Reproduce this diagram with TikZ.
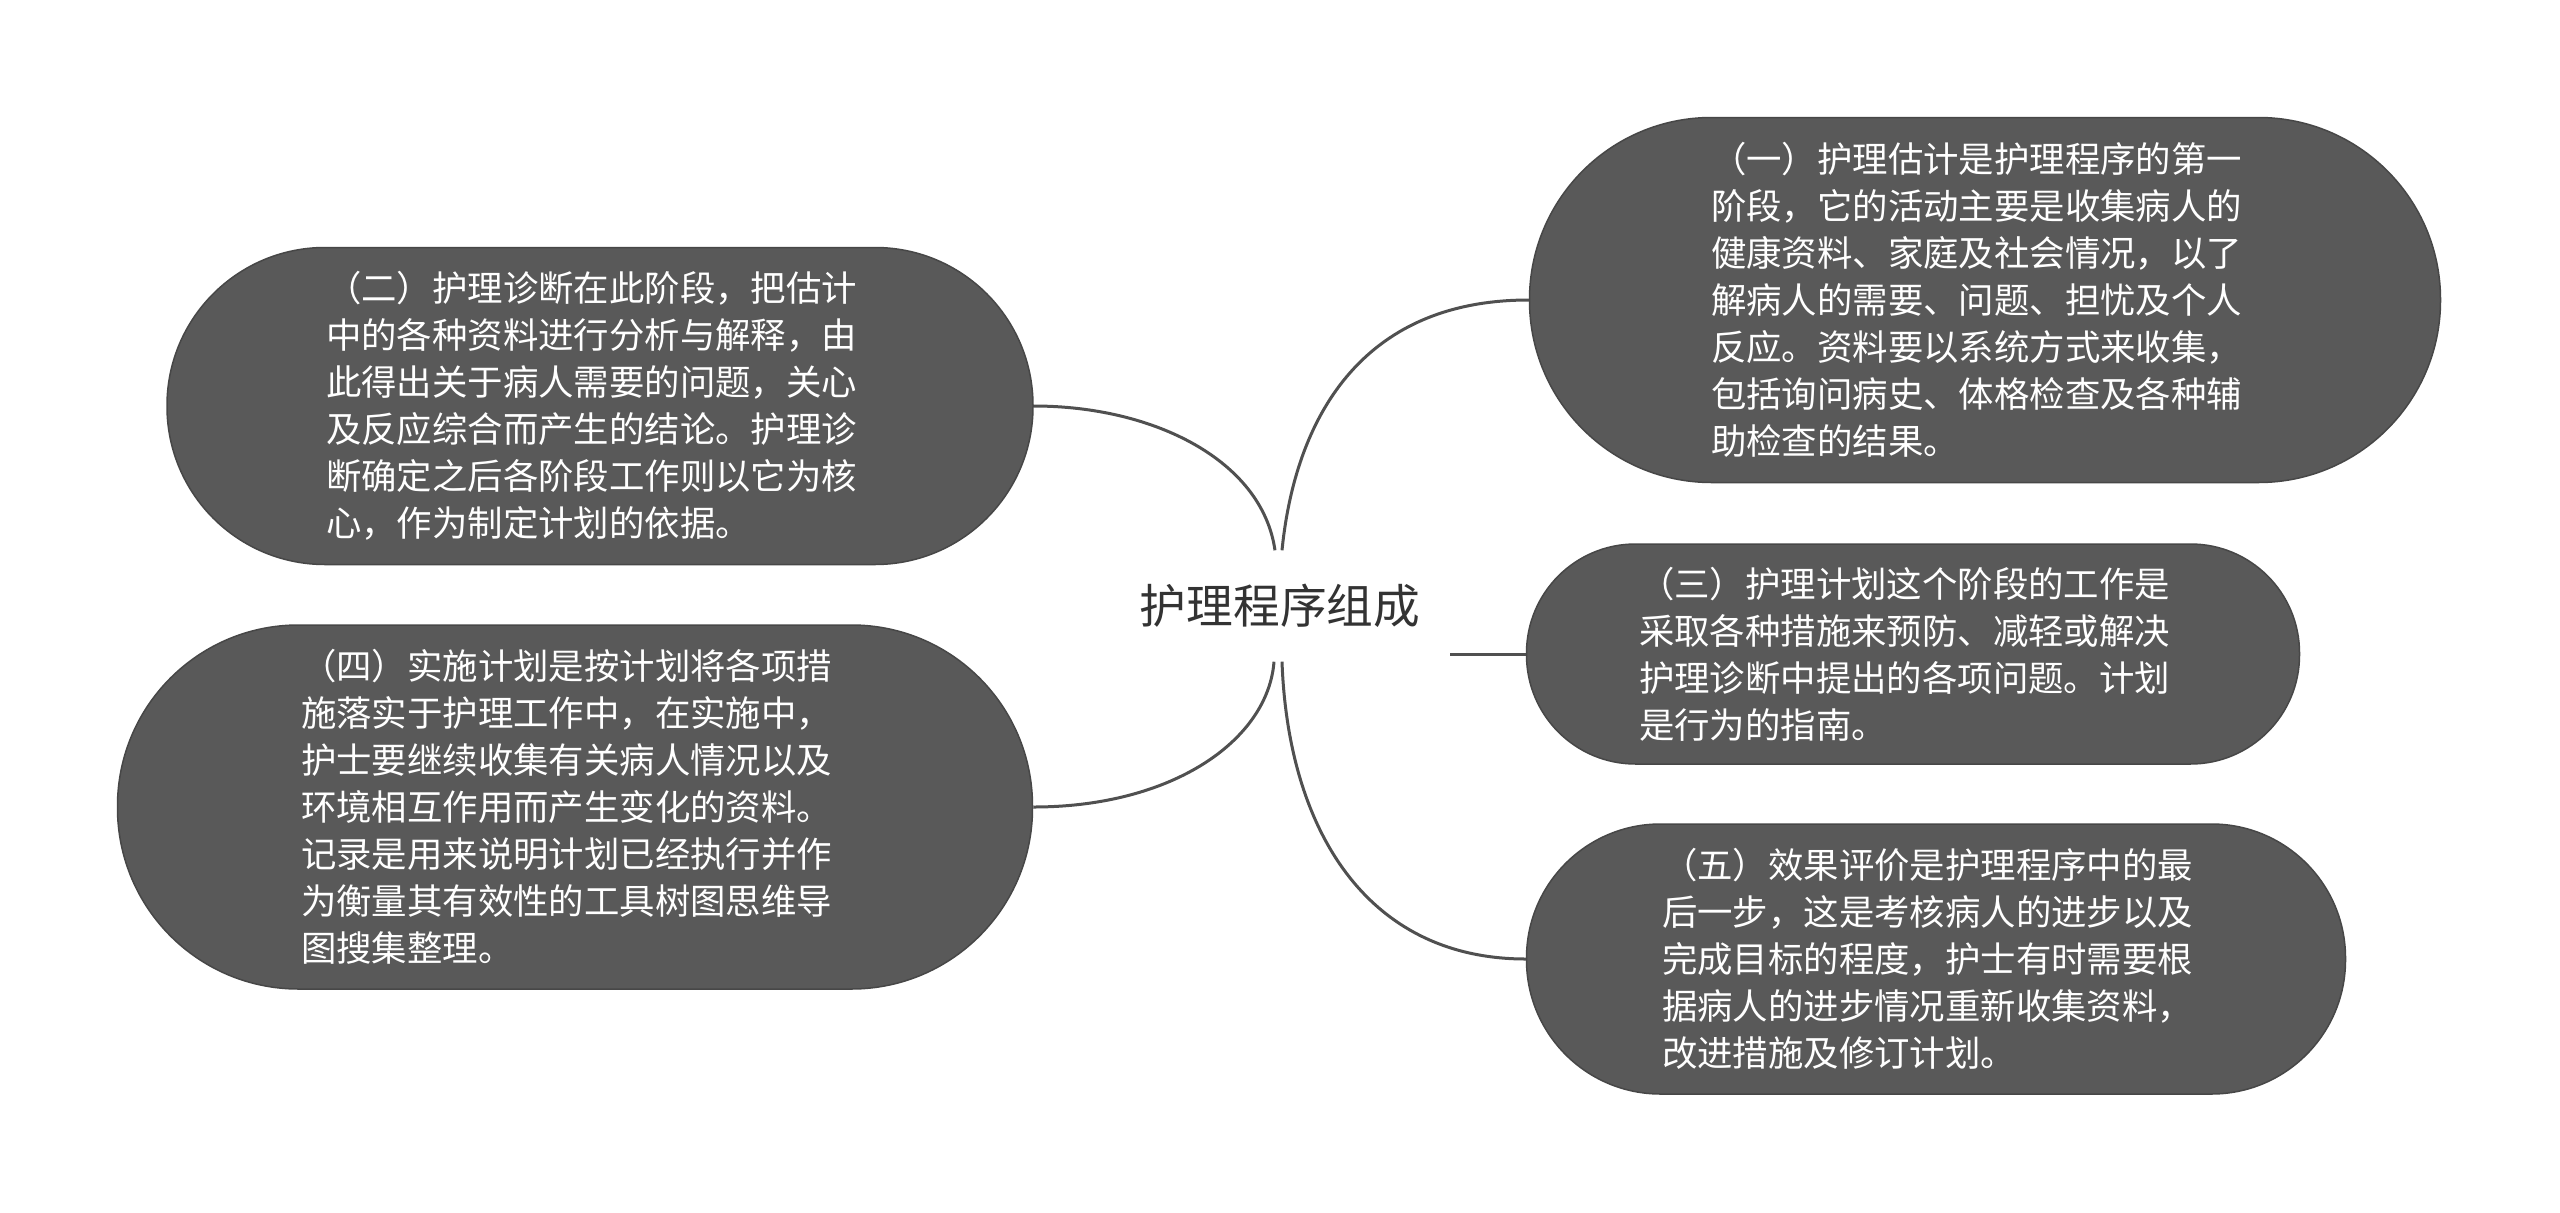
\documentclass[tikz,border=0pt]{standalone}
\usepackage{fontspec}
\setmainfont{Noto Sans CJK SC}
\definecolor{boxfill}{HTML}{595959}
\definecolor{boxedge}{HTML}{474747}
\definecolor{linkgray}{HTML}{505050}
\definecolor{hubtext}{HTML}{333333}
\newcommand{\stagefont}{\fontsize{35.4}{47}\selectfont}
\newcommand{\hubfont}{\fontsize{46.7}{56}\selectfont}
\tikzset{
	stage/.style = {draw = boxedge, line width = 1.5pt, fill = boxfill, text = white,
		text width = 548pt, align = left, inner sep = 0pt, font = \stagefont},
	link/.style = {draw = linkgray, line width = 3pt}
}
\begin{document}
\begin{tikzpicture}[x = 1pt, y = -1pt]

	% Canvas

	\useasboundingbox [fill = white] (0, 0) rectangle (2560, 1213);

	% Hub

	\node [text = hubtext, font = \hubfont, minimum width = 340pt, minimum height = 111pt, inner sep = 0pt] (hub) at (1280, 606) {护理程序组成};

	% Stages

	\node [stage, minimum width = 911pt, minimum height = 365pt, rounded corners = 182pt] (assess) at (1985, 300)
		{（一）护理估计是护理程序的第一\\阶段，它的活动主要是收集病人的\\健康资料、家庭及社会情况，以了\\解病人的需要、问题、担忧及个人\\反应。资料要以系统方式来收集，\\包括询问病史、体格检查及各种辅\\助检查的结果。};
	\node [stage, minimum width = 866pt, minimum height = 317pt, rounded corners = 158pt] (diagnose) at (600, 406)
		{（二）护理诊断在此阶段，把估计\\中的各种资料进行分析与解释，由\\此得出关于病人需要的问题，关心\\及反应综合而产生的结论。护理诊\\断确定之后各阶段工作则以它为核\\心，作为制定计划的依据。};
	\node [stage, minimum width = 773pt, minimum height = 220pt, rounded corners = 109pt] (plan) at (1913, 654)
		{（三）护理计划这个阶段的工作是\\采取各种措施来预防、减轻或解决\\护理诊断中提出的各项问题。计划\\是行为的指南。};
	\node [stage, minimum width = 915pt, minimum height = 364pt, rounded corners = 181pt] (implement) at (575, 807)
		{（四）实施计划是按计划将各项措\\施落实于护理工作中，在实施中，\\护士要继续收集有关病人情况以及\\环境相互作用而产生变化的资料。\\记录是用来说明计划已经执行并作\\为衡量其有效性的工具树图思维导\\图搜集整理。};
	\node [stage, minimum width = 819pt, minimum height = 270pt, rounded corners = 134pt] (evaluate) at (1936, 959)
		{（五）效果评价是护理程序中的最\\后一步，这是考核病人的进步以及\\完成目标的程度，护士有时需要根\\据病人的进步情况重新收集资料，\\改进措施及修订计划。};

	% Connectors

	\draw [link] ([xshift = 2pt] hub.north) .. controls +(13, -130) and +(-169, 0) .. (assess.west);
	\draw [link] ([xshift = -5pt] hub.north) .. controls +(-13, -90) and +(120, 0) .. (diagnose.east);
	\draw [link] (hub.east |- plan.west) -- (plan.west);
	\draw [link] ([xshift = -6pt] hub.south) .. controls +(-6, 78) and +(140, 0) .. (implement.east);
	\draw [link] ([xshift = 2pt] hub.south) .. controls +(6, 168) and +(-159, 0) .. (evaluate.west);

\end{tikzpicture}
\end{document}
